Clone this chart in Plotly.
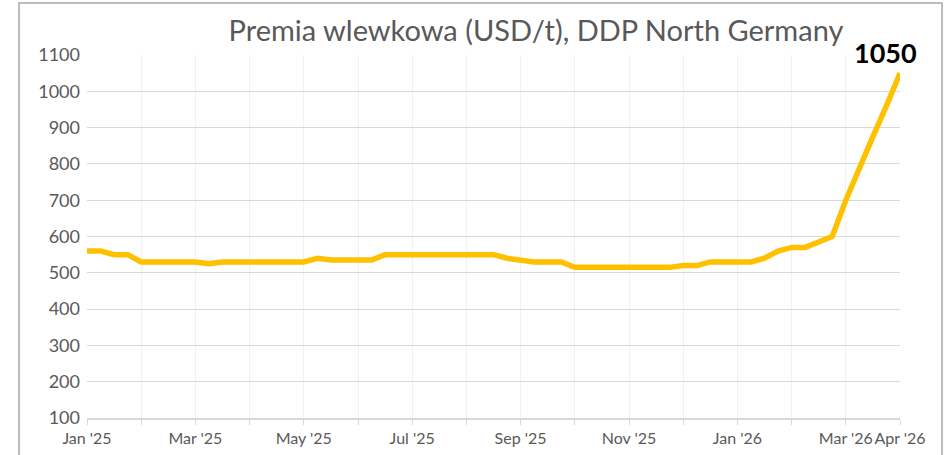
import plotly.graph_objects as go

# Weekly-ish observations: 4 points per month, Jan '25 .. Apr '26
values = [560, 560, 550, 550, 530, 530, 530, 530, 530, 525,
          530, 530, 530, 530, 530, 530, 530, 540, 535, 535,
          535, 535, 550, 550, 550, 550, 550, 550, 550, 550,
          550, 540, 535, 530, 530, 530, 515, 515, 515, 515,
          515, 515, 515, 515, 520, 520, 530, 530, 530, 530,
          540, 560, 570, 570, 585, 600, 700, 790, 875, 960,
          1050]
x_idx = list(range(len(values)))

month_labels = ["Jan '25", "", "Mar '25", "", "May '25", "", "Jul '25", "",
                "Sep '25", "", "Nov '25", "", "Jan '26", "", "Mar '26", "Apr '26"]
month_pos = [i * 4 for i in range(len(month_labels))]

title_text = "Premia wlewkowa (USD/t), DDP North Germany"
last_label = "1050"

FONT = "Lato"
W, H = 947, 455
ml, mr, mt, mb = 87, 47, 55, 37
PW, PH = W - ml - mr, H - mt - mb

fig = go.Figure()
fig.add_trace(go.Scatter(
    x=x_idx, y=values, mode="lines",
    line=dict(color="#FFC000", width=5.5),
    hoverinfo="skip", showlegend=False,
))

fig.add_annotation(
    x=x_idx[-1], y=values[-1], text="<b>" + last_label + "</b>",
    showarrow=False, xanchor="center", yanchor="bottom",
    xshift=-15, yshift=2,
    font=dict(family=FONT, size=27, color="#000000"),
)

# chart-area border
fig.add_shape(type="rect", xref="paper", yref="paper",
              x0=(19 - ml) / PW, x1=(942 - ml) / PW,
              y0=-(mb + 20) / PH, y1=(H - 3 - mb) / PH,
              line=dict(color="#A6A6A6", width=1.5), layer="below")

fig.update_layout(
    width=W, height=H,
    margin=dict(l=ml, r=mr, t=mt, b=mb, autoexpand=False),
    paper_bgcolor="white", plot_bgcolor="white",
    title=dict(text=title_text, x=536 / W, xref="container", xanchor="center",
               y=1 - 31 / H, yref="container", yanchor="middle",
               font=dict(family=FONT, size=29, color="#595959")),
    font=dict(family=FONT, color="#595959"),
)

fig.update_xaxes(
    range=[0, 60], tickmode="array", tickvals=month_pos, ticktext=month_labels,
    tickangle=0, automargin=False,
    showgrid=True, gridcolor="#F2F1EA", gridwidth=1,
    showline=True, linecolor="#D9D9D9", linewidth=1.5,
    ticks="outside", ticklen=5, tickcolor="#D9D9D9",
    tickfont=dict(family=FONT, size=16, color="#595959"),
    zeroline=False, fixedrange=True,
)
fig.update_yaxes(
    range=[100, 1100], tickmode="array", tickvals=list(range(100, 1101, 100)),
    automargin=False,
    showgrid=True, gridcolor="#D9D9D9", gridwidth=1,
    showline=False, ticks="", ticklabelstandoff=6,
    tickfont=dict(family=FONT, size=18, color="#595959"),
    zeroline=False, fixedrange=True,
)

fig.write_html("out.html", config={"displayModeBar": False},
               post_script="document.body.style.margin='0';")
